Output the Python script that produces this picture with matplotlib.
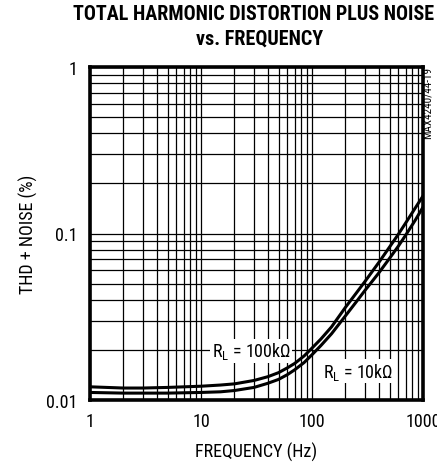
import numpy as np
import matplotlib.pyplot as plt

plt.rcParams['font.family'] = ['Roboto Condensed', 'DejaVu Sans']
plt.rcParams['mathtext.fontset'] = 'custom'
plt.rcParams['mathtext.rm'] = 'Roboto Condensed'

# valores
frecuencia = [1, 2, 3, 5, 10, 15, 20, 30, 40, 50, 60, 70, 85, 100, 120, 150, 200, 250,
              300, 400, 500, 600, 700, 850, 1000]
thd_alto = [0.0120, 0.0118, 0.0118, 0.0119, 0.0121, 0.0123, 0.0125, 0.0131, 0.0138, 0.0146,
            0.0156, 0.0166, 0.0184, 0.0205, 0.0232, 0.0275, 0.0360, 0.0438, 0.0515, 0.0670,
            0.0830, 0.0990, 0.116, 0.142, 0.168]
thd_bajo = [0.0111, 0.0110, 0.0110, 0.0110, 0.0111, 0.0112, 0.0114, 0.0119, 0.0126, 0.0133,
            0.0142, 0.0152, 0.0168, 0.0187, 0.0212, 0.0250, 0.0320, 0.0388, 0.0455, 0.0580,
            0.0710, 0.0840, 0.0980, 0.120, 0.144]

xticks = [1, 10, 100, 1000]
xlabels = ['1', '10', '100', '1000']
yticks = [0.01, 0.1, 1]
ylabels = ['0.01', '0.1', '1']

fig = plt.figure(figsize=(4.37, 4.64), dpi=100)
ax = fig.add_axes([90/437, 1-401/464, 333/437, 333/464])

ax.plot(frecuencia, thd_alto, color='black', lw=2.2, solid_joinstyle='round')
ax.plot(frecuencia, thd_bajo, color='black', lw=2.2, solid_joinstyle='round')

ax.set_xscale('log')
ax.set_yscale('log')
ax.set_xlim(1, 1000)
ax.set_ylim(0.01, 1)
ax.set_xticks(xticks)
ax.set_xticklabels(xlabels)
ax.set_yticks(yticks)
ax.set_yticklabels(ylabels)
ax.tick_params(which='both', length=0, labelsize=13, pad=9)
ax.grid(which='both', color='black', lw=0.9)
for s in ax.spines.values():
    s.set_linewidth(2.6)

ax.set_xlabel('FREQUENCY (Hz)', fontsize=13, labelpad=8)
ax.set_ylabel('THD + NOISE (%)', fontsize=13, labelpad=6)

ax.text(12.5, 0.0197, r'R$_\mathrm{L}$ = 100k$\Omega$', fontsize=13, va='center', ha='left',
        bbox=dict(facecolor='white', edgecolor='none', pad=1))
ax.text(126, 0.0149, r'R$_\mathrm{L}$ = 10k$\Omega$', fontsize=13, va='center', ha='left',
        bbox=dict(facecolor='white', edgecolor='none', pad=1))

fig.text(0.58, 1-14.5/464, 'TOTAL HARMONIC DISTORTION PLUS NOISE', ha='center', va='center',
         fontsize=14.5, fontweight='heavy')
fig.text(0.595, 1-39.5/464, 'vs. FREQUENCY', ha='center', va='center',
         fontsize=14.5, fontweight='heavy')
fig.text(428/437, 1-103/464, 'MAX4240/44-19', rotation=90, ha='center', va='center', fontsize=8)

plt.savefig('out.png', dpi=100)
